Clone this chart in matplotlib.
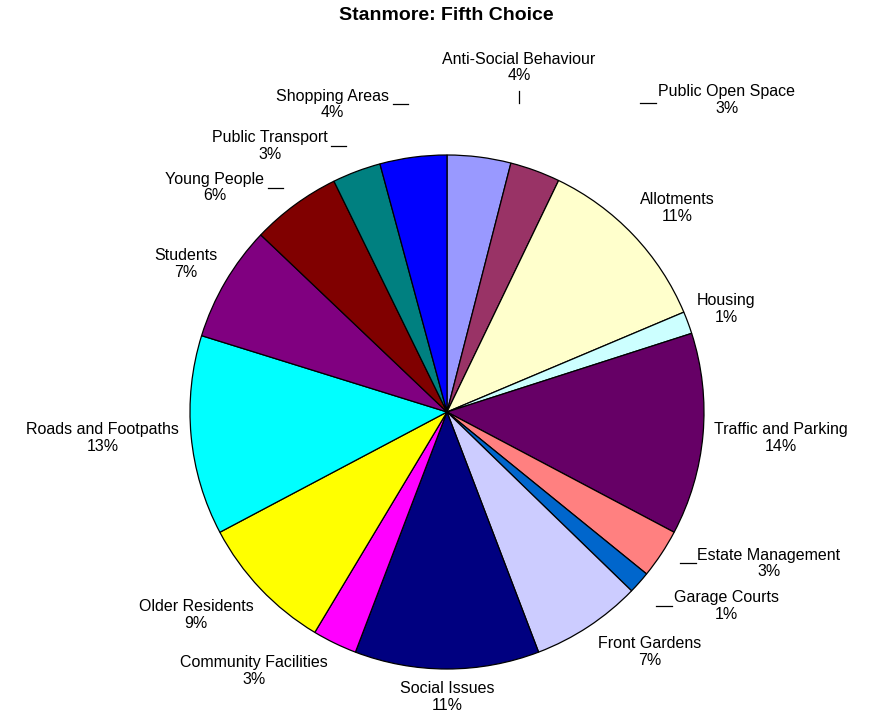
import matplotlib
matplotlib.use('Agg')
import matplotlib.pyplot as plt

plt.rcParams['font.family'] = ['Liberation Sans', 'DejaVu Sans']

# Data (clockwise from 12 o'clock)
categories = ['Anti-Social Behaviour', 'Public Open Space', 'Allotments', 'Housing',
              'Traffic and Parking', 'Estate Management', 'Garage Courts', 'Front Gardens',
              'Social Issues', 'Community Facilities', 'Older Residents', 'Roads and Footpaths',
              'Students', 'Young People', 'Public Transport', 'Shopping Areas']
values = [4.0, 3.15, 11.5, 1.4, 12.7, 3.1, 1.4, 6.95,
          11.6, 2.8, 8.65, 12.55, 7.3, 5.65, 3.05, 4.2]
pct_labels = ['4%', '3%', '11%', '1%', '14%', '3%', '1%', '7%',
              '11%', '3%', '9%', '13%', '7%', '6%', '3%', '4%']
colors = ['#9999FF', '#993366', '#FFFFCC', '#CCFFFF', '#660066', '#FF8080', '#0066CC', '#CCCCFF',
          '#000080', '#FF00FF', '#FFFF00', '#00FFFF', '#800080', '#800000', '#008080', '#0000FF']

# label positions (pie radius = 1)
label_pos = [(0.28, 1.339), (1.089, 1.214), (0.895, 0.794), (1.086, 0.401),
             (1.300, -0.101), (1.253, -0.588), (1.086, -0.755), (0.790, -0.934),
             (0.0, -1.109), (-0.751, -1.008), (-0.977, -0.790), (-1.339, -0.101),
             (-1.016, 0.576), (-0.903, 0.872), (-0.689, 1.035), (-0.447, 1.195)]

# leader lines, pixel coords (x0, y0, x1, y1)
leaders = [(519, 91, 519, 103), (640, 103, 656, 103), (393, 104, 408, 104),
           (331, 146, 346, 146), (268, 188, 283, 188), (680, 563, 696, 563),
           (656, 606, 672, 606)]

cx, cy, r = 447, 412, 257

fig = plt.figure(figsize=(8.77, 7.19), dpi=100, facecolor='white')
ax = fig.add_axes([0, 0, 1, 1])
ax.pie(values, colors=colors, startangle=90, counterclock=False, radius=1,
       wedgeprops=dict(edgecolor='black', linewidth=0.9))
ax.set_xlim(-cx / r, (877 - cx) / r)
ax.set_ylim((cy - 719) / r, cy / r)
ax.set_aspect('auto')
ax.axis('off')

for name, pct, (x, y) in zip(categories, pct_labels, label_pos):
    ax.text(x, y, name + '\n' + pct, ha='center', va='center', fontsize=11.5,
            linespacing=1.1, color='black')

for x0, y0, x1, y1 in leaders:
    ax.plot([(x0 - cx) / r, (x1 - cx) / r], [(cy - y0) / r, (cy - y1) / r],
            color='black', linewidth=0.9)

fig.text(446 / 877, 1 - 16 / 719, 'Stanmore: Fifth Choice', ha='center', va='center',
         fontsize=14, fontweight='bold')

fig.savefig('out.png', dpi=100, facecolor='white')
